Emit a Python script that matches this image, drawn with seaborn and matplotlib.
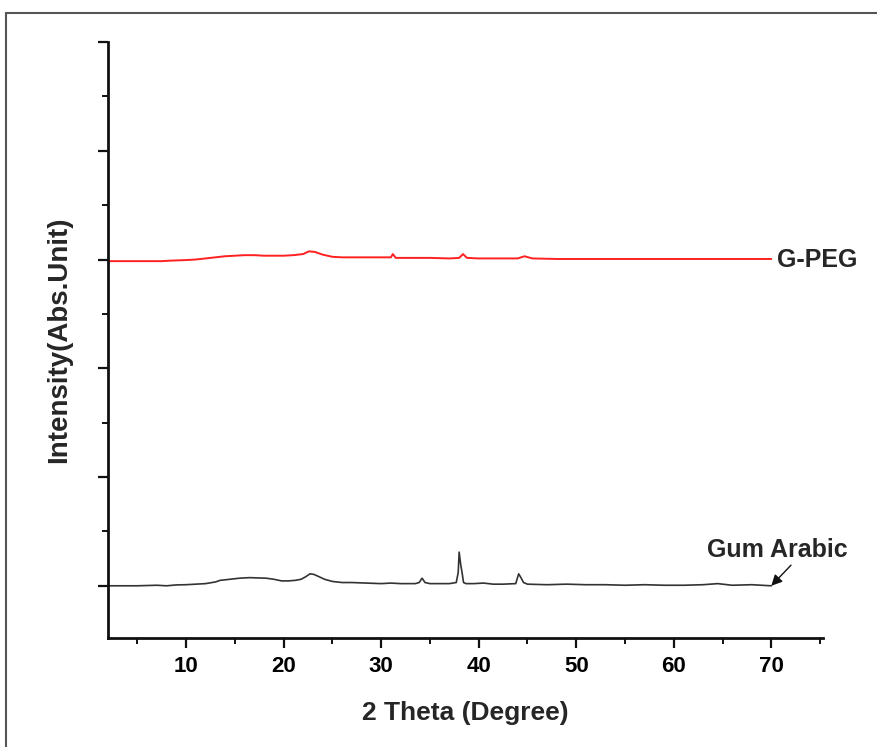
import matplotlib
matplotlib.use("Agg")
import matplotlib.pyplot as plt
import seaborn as sns
import pandas as pd
from matplotlib.patches import Rectangle
from matplotlib.ticker import MultipleLocator, NullFormatter

# ---- data ----
gum_x = [2, 5, 7, 8, 9, 10, 11, 12, 13, 13.5, 14.5, 15.5, 16.5, 17.5, 18.2, 19, 19.8, 20.5, 21.2,
         21.8, 22.3, 22.7, 23.1, 23.6, 24.2, 25, 26, 27, 28.5, 30, 31, 32, 33.5, 33.9, 34.2, 34.5, 35,
         36, 37, 37.7, 37.9, 38.0, 38.15, 38.3, 38.45, 38.7, 39.5, 40.5, 41.5, 42.5, 43.8, 44.1, 44.3,
         44.6, 45, 47, 49, 51, 53, 55, 57, 59, 61, 63, 64.5, 66, 68, 70]
gum_y = [0.0, 0.0, 0.005, 0.0, 0.008, 0.01, 0.015, 0.02, 0.035, 0.05, 0.06, 0.07, 0.075, 0.072, 0.07,
         0.06, 0.045, 0.045, 0.05, 0.06, 0.085, 0.11, 0.105, 0.085, 0.06, 0.04, 0.03, 0.03, 0.025, 0.02,
         0.025, 0.02, 0.02, 0.03, 0.07, 0.03, 0.02, 0.02, 0.02, 0.03, 0.12, 0.31, 0.2, 0.12, 0.03, 0.02,
         0.02, 0.025, 0.015, 0.015, 0.02, 0.11, 0.08, 0.03, 0.015, 0.01, 0.015, 0.01, 0.01, 0.005,
         0.01, 0.005, 0.005, 0.01, 0.02, 0.005, 0.01, 0.0]

peg_x = [2, 5, 7.5, 8.5, 10, 11, 12, 13, 14, 15, 16, 17, 18, 19, 20, 21, 22, 22.6, 23.2, 24, 25,
         26, 28, 30, 31, 31.2, 31.5, 33, 35, 37, 38, 38.4, 38.8, 40, 42, 44, 44.7, 45.5, 48, 52, 56, 60,
         64, 67, 70]
peg_y = [2.985, 2.985, 2.985, 2.99, 2.995, 3.0, 3.01, 3.02, 3.03, 3.035, 3.04, 3.04, 3.035, 3.035, 3.035,
         3.04, 3.05, 3.075, 3.07, 3.045, 3.025, 3.02, 3.02, 3.02, 3.02, 3.05, 3.015, 3.015, 3.015, 3.01,
         3.015, 3.05, 3.015, 3.01, 3.01, 3.01, 3.03, 3.01, 3.005, 3.005, 3.005, 3.005, 3.005, 3.005, 3.005]

series_labels = ["Gum Arabic", "G-PEG"]
x_ticks = [10, 20, 30, 40, 50, 60, 70]

df_gum = pd.DataFrame({"theta": gum_x, "intensity": gum_y})
df_peg = pd.DataFrame({"theta": peg_x, "intensity": peg_y})

sns.set_style("ticks")
plt.rcParams["font.family"] = ["Liberation Sans", "DejaVu Sans"]
plt.rcParams["font.weight"] = "bold"

fig = plt.figure(figsize=(8.78, 7.47), dpi=100)
ax = fig.add_axes([108 / 878, 1 - 638 / 747, 715 / 878, 596 / 747])

sns.lineplot(data=df_gum, x="theta", y="intensity", ax=ax, color="#333333",
             linewidth=1.2, estimator=None, sort=False)
sns.lineplot(data=df_peg, x="theta", y="intensity", ax=ax, color="#ff2020",
             linewidth=1.4, estimator=None, sort=False)

ax.set_xlim(2, 75.3)
ax.set_ylim(-0.48, 5.0)

ax.set_xticks(x_ticks)
ax.set_xticklabels([str(t) for t in x_ticks])
ax.xaxis.set_minor_locator(MultipleLocator(5))
ax.yaxis.set_minor_locator(MultipleLocator(0.5))
ax.set_yticks([0, 1, 2, 3, 4, 5])
ax.set_yticklabels([])

for s in ["top", "right"]:
    ax.spines[s].set_visible(False)
for s in ["left", "bottom"]:
    ax.spines[s].set_linewidth(2.0)
    ax.spines[s].set_color("#111111")

ax.tick_params(axis="both", which="major", direction="out", length=7, width=1.6,
               color="#111111", labelsize=16, pad=6, labelcolor="#000000")
ax.tick_params(axis="both", which="minor", direction="out", length=4, width=1.4,
               color="#111111")
for lab in ax.get_xticklabels():
    lab.set_fontweight("bold")

ax.set_xlabel("2 Theta (Degree)", fontsize=19, fontweight="bold")
ax.set_ylabel("Intensity(Abs.Unit)", fontsize=20, fontweight="bold")
ax.xaxis.set_label_coords(0.5, -0.105)
ax.yaxis.set_label_coords(-0.05, 0.5)

# series labels
ax.text(70.6, 3.0, series_labels[1], fontsize=18, fontweight="bold",
        ha="left", va="center", clip_on=False)
ax.annotate(series_labels[0], xy=(70, 0.0), xytext=(63.4, 0.33),
            fontsize=18, fontweight="bold", ha="left", va="center",
            arrowprops=dict(arrowstyle="-|>", color="#111111", lw=1.0,
                            shrinkA=0, shrinkB=0, mutation_scale=16,
                            relpos=(0.62, 0.0)))

# outer frame of the figure
fig.patches.append(Rectangle((6 / 878, -0.05), 1.1, (747 - 13) / 747 + 0.05,
                             transform=fig.transFigure, fill=False,
                             edgecolor="#555555", linewidth=1.5))

fig.savefig("out.png", dpi=100)
